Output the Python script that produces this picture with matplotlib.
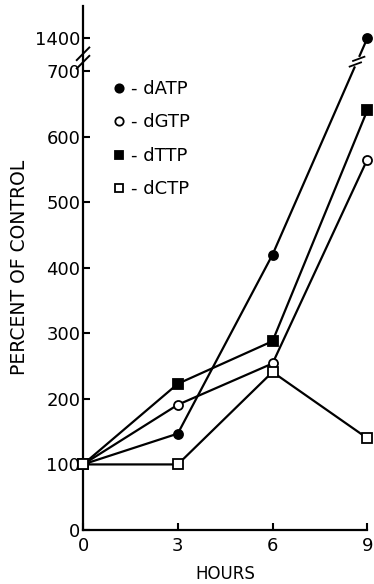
import numpy as np
import matplotlib.pyplot as plt
from matplotlib.lines import Line2D

hours = [0, 3, 6, 9]
datp = [100, 147, 420, 1400]
dgtp = [100, 191, 254, 565]
dttp = [100, 223, 288, 640]
dctp = [100, 100, 241, 140]

yticks = [0, 100, 200, 300, 400, 500, 600, 700, 1400]

# compressed region above 700 (axis break)
def fwd(v):
    v = np.asarray(v, dtype=float)
    return np.where(v <= 700, v, 700 + (v - 700) / 14.0)

def inv(u):
    u = np.asarray(u, dtype=float)
    return np.where(u <= 700, u, 700 + (u - 700) * 14.0)

plt.rcParams['font.family'] = 'DejaVu Sans'

fig = plt.figure(figsize=(3.74, 5.84), dpi=100)
ax = fig.add_axes([0.222, 0.0925, 0.76, 0.898])
ax.set_yscale('function', functions=(fwd, inv))

series = [
    (datp, 'o', 'black', '- dATP'),
    (dgtp, 'o', 'white', '- dGTP'),
    (dttp, 's', 'black', '- dTTP'),
    (dctp, 's', 'white', '- dCTP'),
]
for vals, m, fc, lab in series:
    ax.plot(hours, vals, color='black', lw=1.6, marker=m, ms=6.5,
            mfc=fc, mec='black', mew=1.3, clip_on=False, zorder=3)

ax.set_xlim(0, 9)
ax.set_ylim(0, 2100)
ax.set_xticks([0, 3, 6, 9])
ax.set_yticks(yticks)
ax.set_yticklabels([str(t) for t in yticks])
ax.tick_params(direction='in', length=5, width=1.5, labelsize=13)
ax.tick_params(axis='x', pad=5)
ax.tick_params(axis='y', pad=2)
for s in ['top', 'right']:
    ax.spines[s].set_visible(False)
for s in ['left', 'bottom']:
    ax.spines[s].set_linewidth(1.6)

ax.set_xlabel('HOURS', fontsize=12, labelpad=7)
ax.set_ylabel('PERCENT OF CONTROL', fontsize=13.5, labelpad=4)

# break marks on the y axis
for dy in (-0.008, 0.008):
    ax.plot([-0.022, 0.022], [0.9 + dy - 0.012, 0.9 + dy + 0.012],
            transform=ax.transAxes, color='black', lw=1.4, clip_on=False)

# break marks on the dATP line
bx, by = 0.964, 0.893
ax.plot([bx - 0.004, bx + 0.004], [by - 0.004, by + 0.004], transform=ax.transAxes,
        color='white', lw=4, clip_on=False, zorder=4)
for d in (-0.006, 0.006):
    ax.plot([bx + d - 0.02, bx + d + 0.02], [by + d * 0.9 - 0.004, by + d * 0.9 + 0.004],
            transform=ax.transAxes, color='black', lw=1.3, clip_on=False, zorder=5)

handles = [Line2D([], [], ls='none', marker=m, ms=6, mfc=fc, mec='black', mew=1.3)
           for _, m, fc, _ in series]
ax.legend(handles, [s[3] for s in series], loc='upper left',
          bbox_to_anchor=(0.074, 0.875), frameon=False, fontsize=13,
          handlelength=0.6, handletextpad=0.4, labelspacing=0.85, borderpad=0)

fig.savefig('out.png', dpi=100)
